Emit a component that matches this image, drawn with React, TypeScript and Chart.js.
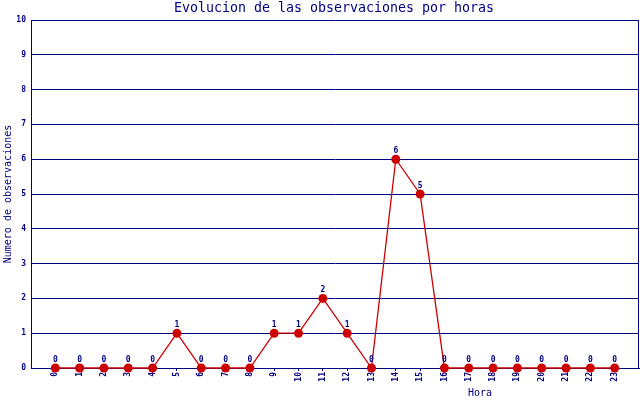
import React, { useEffect, useRef } from "react";
import { Chart, registerables } from "chart.js";

Chart.register(...registerables);

const hours: number[] = [0, 1, 2, 3, 4, 5, 6, 7, 8, 9, 10, 11, 12, 13, 14, 15, 16, 17, 18, 19, 20, 21, 22, 23];
const counts: number[] = [0, 0, 0, 0, 0, 1, 0, 0, 0, 1, 1, 2, 1, 0, 6, 5, 0, 0, 0, 0, 0, 0, 0, 0];
const titleText = "Evolucion de las observaciones por horas";
const xTitle = "Hora";
const yTitle = "Numero de observaciones";

const NAVY = "#000080";
const RED = "#cc0000";
const MONO = "'DejaVu Sans Mono', 'Liberation Mono', monospace";

const textPlugin = {
  id: "customText",
  afterDraw(chart: any) {
    const ctx = chart.ctx;
    const area = chart.chartArea;
    ctx.save();
    ctx.strokeStyle = NAVY;
    ctx.lineWidth = 1;
    ctx.beginPath();
    ctx.moveTo(Math.round(area.right) - 0.5, area.top);
    ctx.lineTo(Math.round(area.right) - 0.5, area.bottom);
    ctx.stroke();

    ctx.fillStyle = NAVY;
    ctx.textAlign = "center";
    ctx.textBaseline = "middle";
    ctx.font = `13.3px ${MONO}`;
    ctx.fillText(titleText, 334, 9);
    ctx.font = `10px ${MONO}`;
    ctx.fillText(xTitle, 480, 393);
    ctx.translate(8, 194);
    ctx.rotate(-Math.PI / 2);
    ctx.fillText(yTitle, 0, 0);
    ctx.restore();
  },
  afterDatasetsDraw(chart: any) {
    const ctx = chart.ctx;
    const meta = chart.getDatasetMeta(0);
    ctx.save();
    ctx.fillStyle = NAVY;
    ctx.font = `bold 8px ${MONO}`;
    ctx.textAlign = "center";
    ctx.textBaseline = "bottom";
    meta.data.forEach((pt: any, i: number) => {
      ctx.fillText(String(counts[i]), pt.x, pt.y - 4);
    });
    ctx.restore();
  },
};

export default function App() {
  const ref = useRef<HTMLCanvasElement | null>(null);
  useEffect(() => {
    document.body.style.margin = "0";
    const canvas = ref.current;
    if (!canvas) return;
    const chart = new Chart(canvas, {
      type: "line",
      data: {
        datasets: [
          {
            data: hours.map((h, i) => ({ x: h, y: counts[i] })),
            borderColor: RED,
            backgroundColor: RED,
            borderWidth: 1.3,
            pointRadius: 4.5,
            pointBorderWidth: 0,
            pointBackgroundColor: RED,
            tension: 0,
            clip: false as any,
          },
        ],
      },
      options: {
        responsive: false,
        animation: false,
        devicePixelRatio: 1,
        layout: { autoPadding: false, padding: { top: 20, right: 1, left: 0, bottom: 0 } },
        plugins: {
          legend: { display: false },
          title: { display: false },
          tooltip: { enabled: false },
        },
        scales: {
          x: {
            type: "linear",
            min: -1,
            max: 24,
            afterBuildTicks: (scale: any) => {
              scale.ticks = hours.map((h) => ({ value: h }));
            },
            afterFit: (scale: any) => {
              scale.height = 32;
              scale.paddingLeft = 0;
              scale.paddingRight = 0;
            },
            ticks: {
              autoSkip: false,
              minRotation: 90,
              maxRotation: 90,
              padding: 1,
              color: NAVY,
              font: { family: MONO, size: 8, weight: "bold" },
              callback: (v: any) => String(v),
            },
            grid: {
              drawOnChartArea: false,
              drawTicks: true,
              tickLength: 3,
              color: NAVY,
            },
            border: { display: true, color: NAVY, width: 1 },
          },
          y: {
            min: 0,
            max: 10,
            afterFit: (scale: any) => {
              scale.width = 31;
              scale.paddingTop = 0;
              scale.paddingBottom = 0;
            },
            ticks: {
              stepSize: 1,
              padding: 5,
              color: NAVY,
              font: { family: MONO, size: 8, weight: "bold" },
            },
            grid: {
              drawTicks: false,
              color: NAVY,
              lineWidth: 1,
            },
            border: { display: true, color: NAVY, width: 1 },
          },
        },
      },
      plugins: [textPlugin],
    });
    return () => chart.destroy();
  }, []);
  return (
    <div style={{ width: 640, height: 400, background: "#fff" }}>
      <canvas ref={ref} width={640} height={400} style={{ display: "block" }} />
    </div>
  );
}
